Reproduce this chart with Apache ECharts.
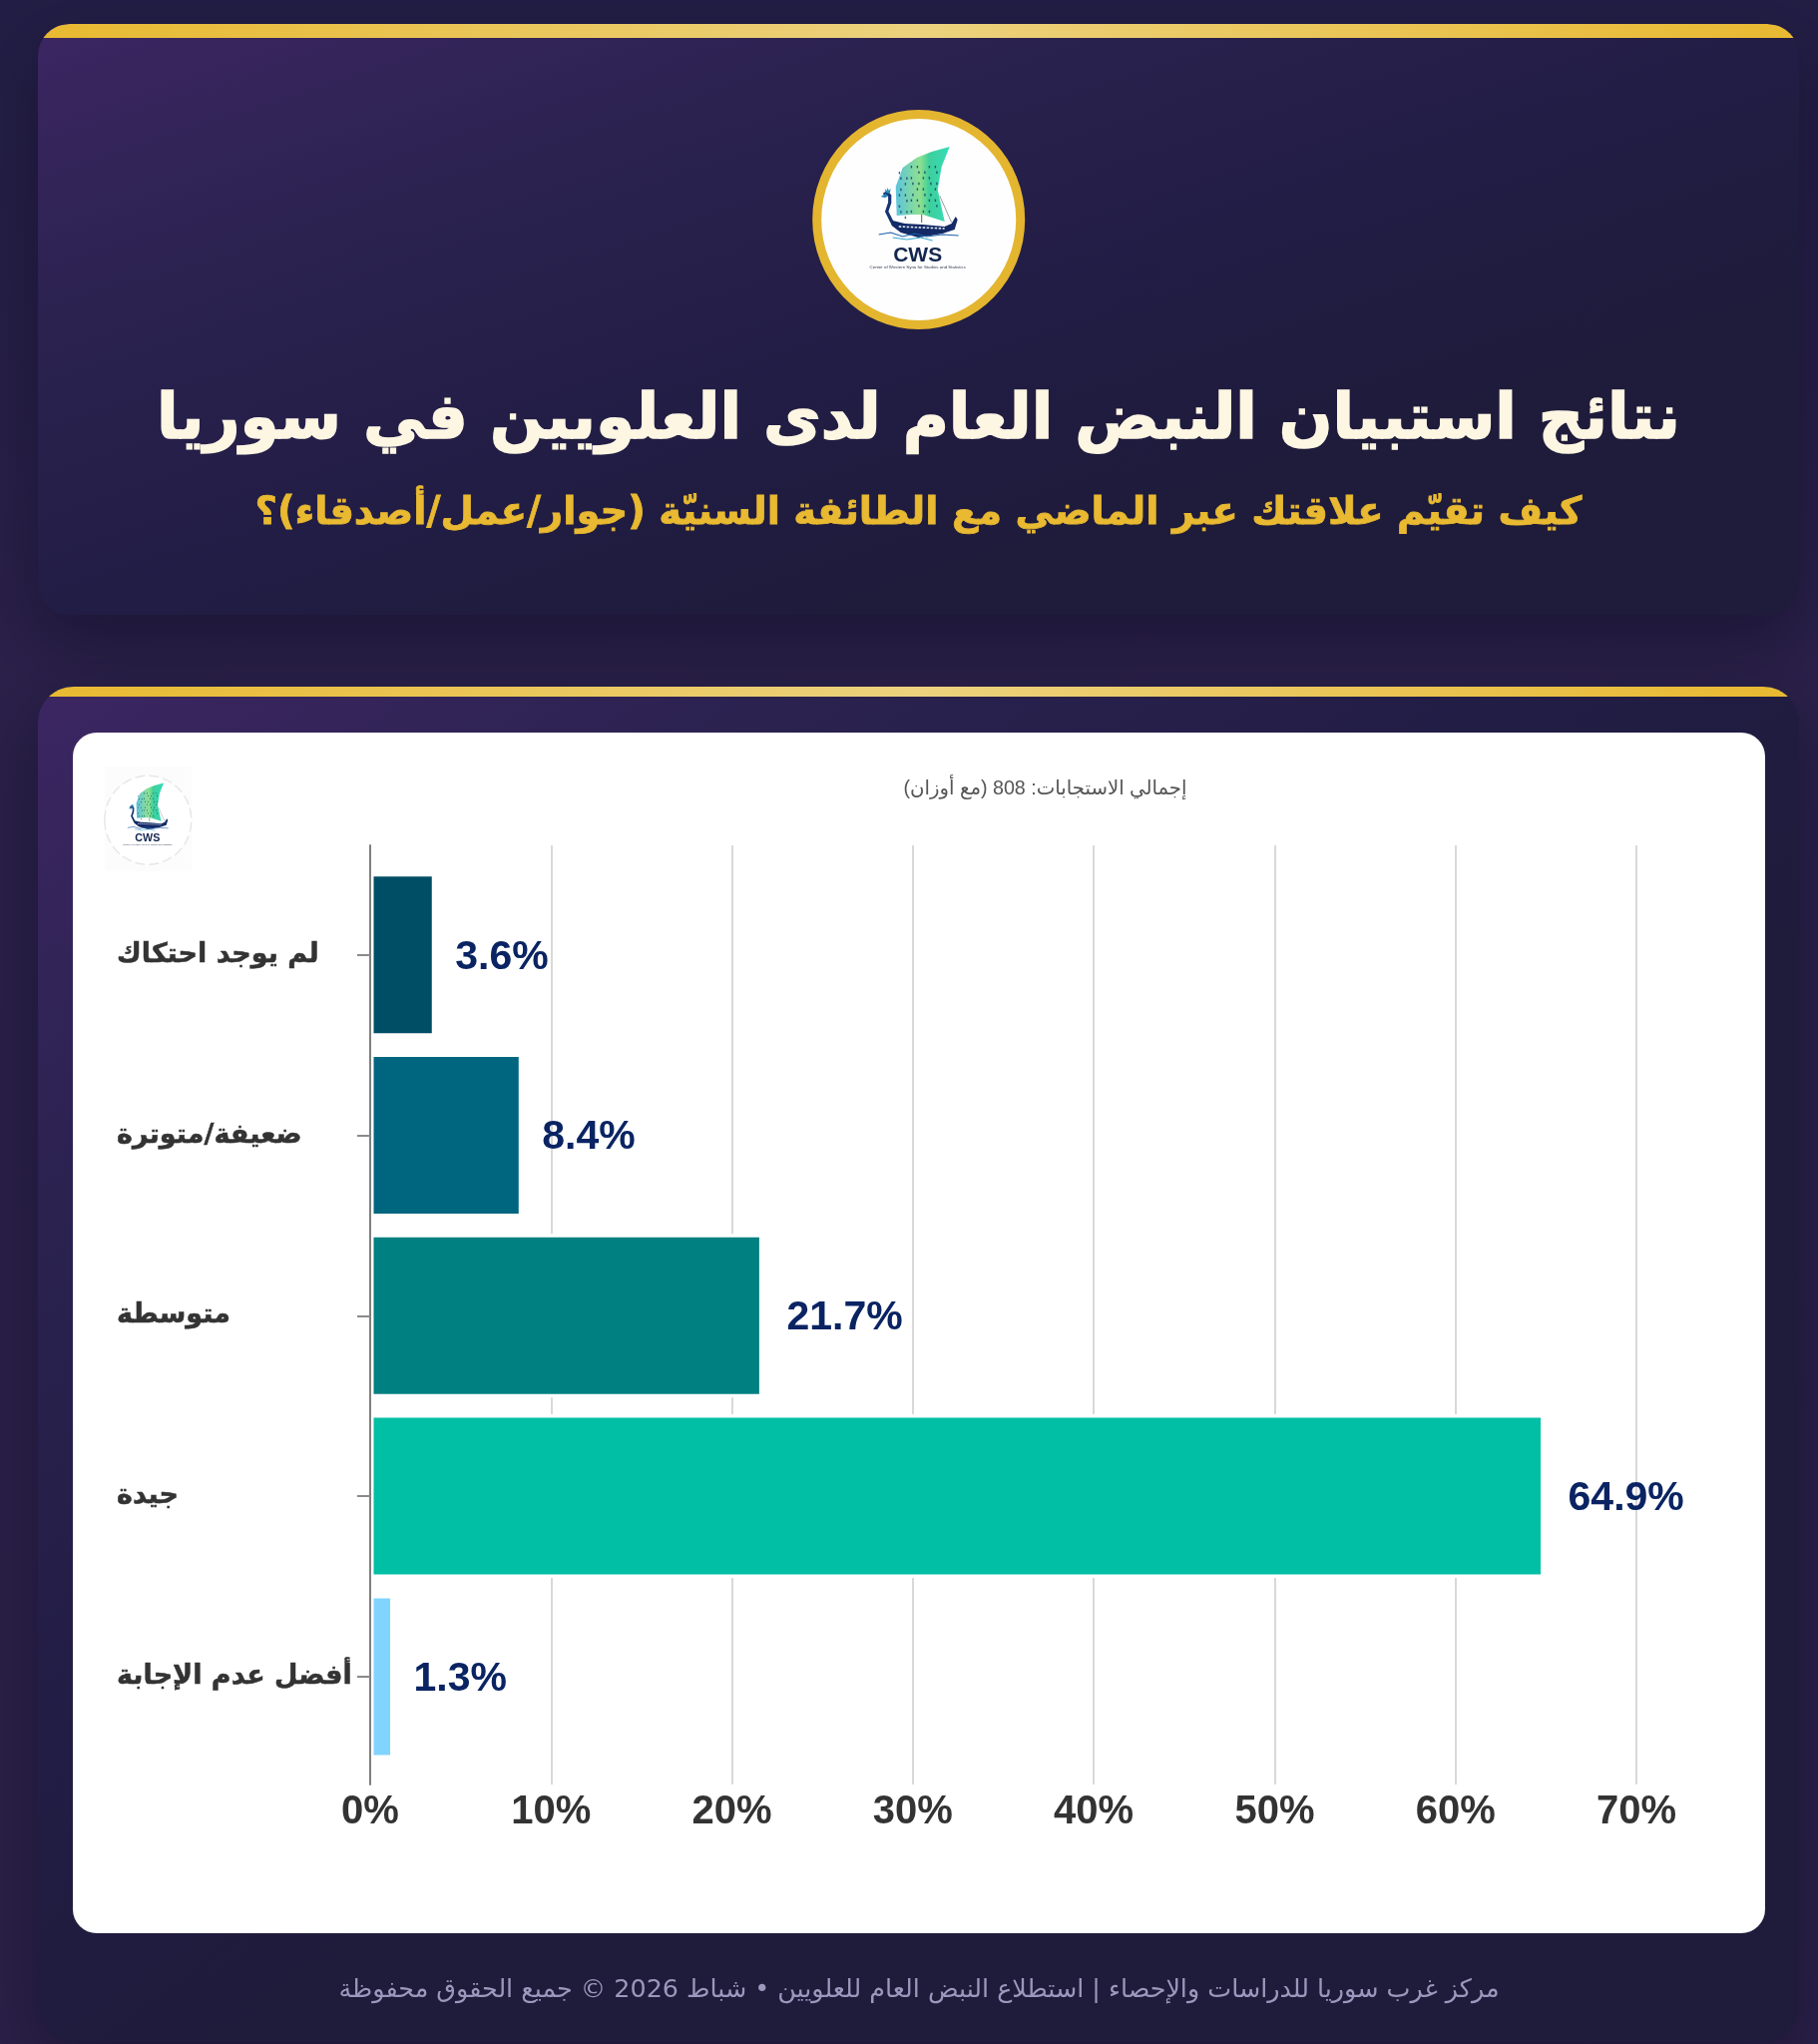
<!DOCTYPE html>
<html lang="ar">
<head>
<meta charset="utf-8">
<title>نتائج استبيان النبض العام لدى العلويين في سوريا</title>
<style>
html,body{margin:0;padding:0;background:#241e45}
#chart{width:1822px;height:2048px}
canvas{direction:rtl}
</style>
<script src="https://cdn.jsdelivr.net/npm/echarts@6/dist/echarts.min.js"></script>
</head>
<body>
<div id="chart"></div>
<script>
const categories = ['لم يوجد احتكاك','ضعيفة/متوترة','متوسطة','جيدة','أفضل عدم الإجابة'];
const values = [3.6, 8.4, 21.7, 64.9, 1.3];
const barColors = ['#004D66','#006680','#008080','#00BFA5','#80D4FF'];
const titleText = 'نتائج استبيان النبض العام لدى العلويين في سوريا';
const subtitleText = 'كيف تقيّم علاقتك عبر الماضي مع الطائفة السنيّة (جوار/عمل/أصدقاء)؟';
const totalText = 'إجمالي الاستجابات: 808 (مع أوزان)';
const footerText = 'مركز غرب سوريا للدراسات والإحصاء | استطلاع النبض العام للعلويين • شباط 2026 © جميع الحقوق محفوظة';

const PX = 371, PW = 1269, AR = "'DejaVu Sans'";

function lg(x1,y1,x2,y2,stops,global){return {type:'linear',x:x1,y:y1,x2:x2,y2:y2,global:!!global,colorStops:stops.map(s=>({offset:s[0],color:s[1]}))};}
const panelStops = [[0,'#3c2662'],[0.35,'#2b2250'],[0.7,'#221d45'],[1,'#1e1b3b']];
const goldFill = lg(0,0,1,0,[[0,'#e8b931'],[0.5,'#ecd27e'],[1,'#e8b931']]);

function band(x,y,w,h,r){
  const L=[],R=[];
  for(let i=0;i<=12;i++){
    const dy=h*i/12, d=r-Math.sqrt(r*r-(r-dy)*(r-dy));
    L.push([x+d,y+dy]); R.unshift([x+w-d,y+dy]);
  }
  return {type:'polygon',z:-5,shape:{points:L.concat(R)},style:{fill:goldFill}};
}
function panel(x,y,w,h,r,dx,dy){
  return {type:'rect',z:-8,shape:{x:x,y:y,width:w,height:h,r:r},
    style:{fill:lg(x,y,x+dx,y+dy,panelStops,true),shadowColor:'rgba(10,8,30,0.45)',shadowBlur:70,shadowOffsetY:26}};
}
function ship(){
  const kids=[];
  kids.push({type:'polygon',shape:{points:[[-22,-4],[-23,-33],[-16,-52],[-2,-62],[13,-68],[31,-73],[23,-53],[19,-30],[26,2],[4,-5],[-7,-5]]},
    style:{fill:lg(0,0,1,0,[[0,'#5cc4dc'],[0.45,'#8fe08f'],[0.62,'#3ecf9c'],[1,'#35dcb8']])}});
  for(let r=0;r<9;r++)for(let c=0;c<7;c++){
    if((r+c*2)%3===2) continue;
    const px=-20+c*6+((r%2)*1.5), py=-54+r*5.6+(c<2?6:0);
    if(px>19||py<-60+ (3-c)*3) continue;
    kids.push({type:'rect',shape:{x:px,y:py,width:1.4,height:2.4},style:{fill:'rgba(10,50,90,0.75)'}});
  }
  kids.push({type:'line',shape:{x1:3,y1:-5,x2:3,y2:3},style:{stroke:'#3d6f4a',lineWidth:1}});
  kids.push({type:'line',shape:{x1:21,y1:-24,x2:33,y2:3},style:{stroke:'#7a8a90',lineWidth:0.8}});
  kids.push({type:'polygon',shape:{points:[[-32,-6],[-26,1],[-14,4],[4,5],[26,7],[33,4],[37,-3],[39,0],[36,10],[24,14],[0,18],[-18,13],[-27,6]]},style:{fill:'#132a66'}});
  kids.push({type:'line',shape:{x1:-20,y1:7,x2:26,y2:9},style:{stroke:'#dfe8f2',lineWidth:1.6,lineDash:[2.5,1.5]}});
  kids.push({type:'polyline',shape:{points:[[-35,-25],[-32,-27],[-29,-24],[-29,-17],[-32,-8],[-27,2]]},style:{stroke:'#14336f',lineWidth:3.2,fill:null}});
  kids.push({type:'polygon',shape:{points:[[-38,-23],[-33,-26],[-31,-23],[-34,-22]]},style:{fill:'#1f7fb0'}});
  kids.push({type:'polygon',shape:{points:[[-33,-27],[-34,-31],[-32,-29],[-31,-32],[-30,-29],[-28,-31],[-29,-26]]},style:{fill:'#2a8fc0'}});
  kids.push({type:'polyline',shape:{points:[[-40,15],[-28,13],[-16,17],[-4,14],[8,17],[24,15],[40,16]]},style:{stroke:'#1d5fa8',lineWidth:1.2,fill:null}});
  kids.push({type:'polyline',shape:{points:[[-26,18],[-12,20],[2,18],[14,21]]},style:{stroke:'#2fa8cf',lineWidth:1,fill:null}});
  kids.push({type:'text',style:{x:-1,y:36,text:'CWS',fill:'#14264f',font:'bold 21px "Liberation Sans"',textAlign:'center',textVerticalAlign:'middle'}});
  kids.push({type:'text',style:{x:-1,y:48,text:'Center of Western Syria for Studies and Statistics',fill:'#333a50',font:'4.4px "Liberation Sans"',textAlign:'center',textVerticalAlign:'middle'}});
  return kids;
}

const graphicEls = [
  {type:'rect',z:-10,shape:{x:0,y:0,width:1822,height:2048},style:{fill:lg(0,0,0,1,[[0,'#221d44'],[0.32,'#2a2049'],[1,'#2b2048']])}},
  panel(38,24,1765,592,32,251,768),
  band(38,24,1765,14,32),
  panel(38,688,1765,1358,36,700,1000),
  band(38,688,1765,10,36),
  {type:'rect',z:-4,shape:{x:73,y:734,width:1696,height:1203,r:24},style:{fill:'#ffffff'}},
  {type:'ellipse',z:-3,shape:{cx:920.7,cy:220,rx:102,ry:105.5},style:{fill:'#fefefe',stroke:'#e4b52f',lineWidth:9}},
  {type:'group',z:-2,x:920.7,y:220,children:ship().map(o=>Object.assign(o,{z:-2}))},
  {type:'rect',z:-3,shape:{x:105,y:768,width:87,height:105},style:{fill:'#fcfcfc'}},
  {type:'ellipse',z:-3,shape:{cx:148.3,cy:821.7,rx:43.5,ry:44.5},style:{fill:'#ffffff',stroke:'#e6e6e6',lineWidth:1.4,lineDash:[10,4]}},
  {type:'group',z:-2,x:148.3,y:821.7,scaleX:0.51,scaleY:0.51,children:ship().map(o=>Object.assign(o,{z:-2}))}
];

const chart = echarts.init(document.getElementById('chart'),null,{width:1822,height:2048,renderer:'canvas'});
chart.setOption({
  animation:false,
  graphic:{elements:graphicEls},
  title:[
    {text:titleText,left:920.5,top:423,textAlign:'center',textVerticalAlign:'middle',padding:0,textStyle:{color:'#fdf6e3',fontFamily:AR,fontWeight:'bold',fontSize:63,textBorderColor:'#fdf6e3',textBorderWidth:1.6}},
    {text:subtitleText,left:920.5,top:514.5,textAlign:'center',textVerticalAlign:'middle',padding:0,textStyle:{color:'#e8b931',fontFamily:AR,fontWeight:'bold',fontSize:38.5,textBorderColor:'#e8b931',textBorderWidth:0.8}},
    {text:totalText,left:1047.5,top:791,textAlign:'center',textVerticalAlign:'middle',padding:0,textStyle:{color:'#555555',fontFamily:"'Liberation Sans','DejaVu Sans'",fontWeight:'normal',fontSize:19.7}},
    {text:footerText,left:921,top:1994.5,textAlign:'center',textVerticalAlign:'middle',padding:0,textStyle:{color:'#9d97bd',fontFamily:AR,fontWeight:'normal',fontSize:25.4}}
  ],
  grid:[
    {left:PX,top:847,width:PW,height:941,containLabel:false},
    {left:PX,top:866.3,width:PW,height:904,containLabel:false}
  ],
  xAxis:[
    {type:'value',gridIndex:0,min:0,max:70,interval:10,
      axisLine:{show:false},axisTick:{show:false},
      axisLabel:{formatter:'{value}%',color:'#333333',fontFamily:"'Liberation Sans'",fontWeight:'bold',fontSize:40,margin:7.5},
      splitLine:{show:true,lineStyle:{color:'#d9d9d9',width:2}}},
    {type:'value',gridIndex:1,min:0,max:70,interval:10,show:false,splitLine:{show:false}}
  ],
  yAxis:[
    {type:'value',gridIndex:0,min:0,max:1,interval:1,z:10,
      axisLine:{show:true,lineStyle:{color:'#7f7f7f',width:2}},axisTick:{show:false},axisLabel:{show:false},splitLine:{show:false}},
    {type:'category',gridIndex:1,data:categories,inverse:true,z:10,
      axisLine:{show:false},
      axisTick:{show:true,alignWithLabel:true,length:13,lineStyle:{color:'#8a8a8a',width:2}},
      axisLabel:{align:'left',margin:254,padding:[9,0,0,0],color:'#333333',fontFamily:AR,fontWeight:'bold',fontSize:27,textBorderColor:'#333333',textBorderWidth:0.5}}
  ],
  series:[{
    type:'bar',xAxisIndex:1,yAxisIndex:1,barWidth:164,
    data:values.map((v,i)=>({value:v,
      itemStyle:{color:barColors[i],borderColor:'#ffffff',borderWidth:3.5},
      label:{offset:[v>=10?4:0,2.5]}})),
    label:{show:true,position:'right',distance:20,formatter:p=>p.value+'%',color:'#0A2463',fontFamily:"'Liberation Sans'",fontWeight:'bold',fontSize:41}
  }]
});
</script>
</body>
</html>
